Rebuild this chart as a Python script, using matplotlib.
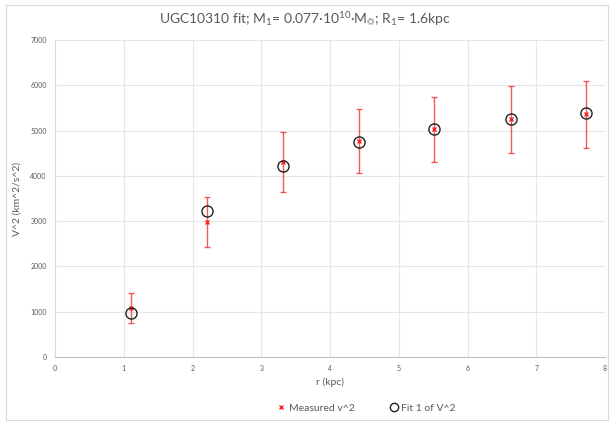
import matplotlib.pyplot as plt
from matplotlib.lines import Line2D
from matplotlib.patches import Rectangle

plt.rcParams['font.family'] = ['Lato', 'DejaVu Sans']
plt.rcParams['mathtext.default'] = 'regular'

# data
r_kpc = [1.1, 2.21, 3.31, 4.42, 5.52, 6.63, 7.73]
v2_measured = [1090, 2980, 4310, 4770, 5030, 5250, 5360]
v2_error = [330, 560, 660, 710, 720, 735, 745]
v2_fit = [965, 3223, 4223, 4740, 5026, 5247, 5387]

x_ticks = list(range(0, 9))
y_ticks = list(range(0, 8000, 1000))

grey_text = '#595959'
grid_col = '#e6e6e6'

fig = plt.figure(figsize=(6.1, 4.22), dpi=100)
ax = fig.add_axes([55 / 610, 1 - 357 / 422, 550 / 610, 317 / 422])

ax.errorbar(r_kpc, v2_measured, yerr=v2_error, fmt='none', ecolor='#f03c3c',
            elinewidth=1.0, capsize=2.2, capthick=1.0, alpha=0.85, zorder=3)
ax.plot(r_kpc, v2_measured, linestyle='none', marker='x', color='#ff2020',
        markersize=3.5, markeredgewidth=1.0, zorder=4)
ax.plot(r_kpc, v2_fit, linestyle='none', marker='o', markerfacecolor='none',
        markeredgecolor='#202020', markersize=8, markeredgewidth=1.0, zorder=5)

ax.set_xlim(0, 8)
ax.set_ylim(0, 7000)
ax.set_xticks(x_ticks)
ax.set_yticks(y_ticks)
ax.grid(True, color=grid_col, linewidth=0.8)
ax.set_axisbelow(True)
ax.tick_params(length=0, labelsize=5, colors=grey_text, pad=6)
for s in ['top', 'right']:
    ax.spines[s].set_visible(False)
ax.spines['left'].set_color('#d9d9d9')
ax.spines['bottom'].set_color('#bfbfbf')
ax.spines['left'].set_linewidth(0.8)
ax.spines['bottom'].set_linewidth(0.8)

ax.set_xlabel('r (kpc)', fontsize=7.5, color=grey_text, labelpad=4)
ax.set_ylabel('V^2 (km^2/s^2)', fontsize=7.5, color=grey_text, labelpad=6)

fig.text(0.5, 1 - 19 / 422,
         r'UGC10310 fit; M$_1$= 0.077·10$^{10}$·M$_{☼}$; R$_1$= 1.6kpc',
         ha='center', va='center', fontsize=10, color=grey_text)

handles = [
    Line2D([], [], linestyle='none', marker='x', color='#ff2020',
           markersize=3.5, markeredgewidth=1.0),
    Line2D([], [], linestyle='none', marker='o', markerfacecolor='none',
           markeredgecolor='#202020', markersize=6, markeredgewidth=1.0),
]
fig.legend(handles, ['Measured v^2', 'Fit 1 of V^2'], loc='center',
           bbox_to_anchor=(366 / 610, 1 - 408 / 422), ncol=2, frameon=False,
           fontsize=7.5, labelcolor=grey_text, handletextpad=0.2,
           columnspacing=3.3, handlelength=1.0)

fig.patches.append(Rectangle((6 / 610, 1 - 420 / 422), 602 / 610, 415 / 422,
                             transform=fig.transFigure, fill=False,
                             edgecolor='#d9d9d9', linewidth=0.8))

fig.savefig('out.png', dpi=100)
